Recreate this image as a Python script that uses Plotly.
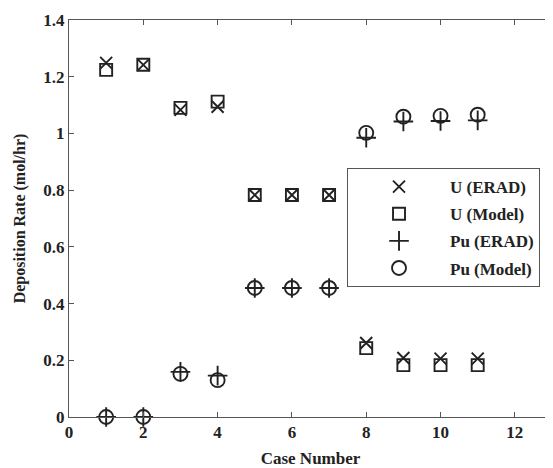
import plotly.graph_objects as go

cases = [1, 2, 3, 4, 5, 6, 7, 8, 9, 10, 11]
u_erad = [1.249, 1.242, 1.083, 1.094, 0.783, 0.783, 0.783, 0.261, 0.208, 0.206, 0.206]
u_model = [1.224, 1.242, 1.09, 1.112, 0.783, 0.783, 0.783, 0.243, 0.183, 0.183, 0.183]
pu_erad = [0.0, 0.0, 0.159, 0.146, 0.455, 0.455, 0.455, 0.985, 1.042, 1.044, 1.046]
pu_model = [0.0, 0.0, 0.152, 0.13, 0.455, 0.455, 0.455, 1.002, 1.059, 1.062, 1.066]
x_ticks = [0, 2, 4, 6, 8, 10, 12]
y_ticks = [0, 0.2, 0.4, 0.6, 0.8, 1.0, 1.2, 1.4]
y_tick_labels = ["0", "0.2", "0.4", "0.6", "0.8", "1", "1.2", "1.4"]

font_family = "Liberation Serif"
ink = "#222222"
frame = "#555555"

series = [
    ("U (ERAD)", u_erad, "x-thin-open", 12),
    ("U (Model)", u_model, "square-open", 12),
    ("Pu (ERAD)", pu_erad, "cross-thin-open", 14),
    ("Pu (Model)", pu_model, "circle-open", 14),
]

fig = go.Figure()
for i, (name, vals, sym, sz) in enumerate(series):
    fig.add_trace(go.Scatter(
        x=cases, y=vals, mode="markers", name="<b>%s</b>" % name,
        legendgroup=f"g{i}",
        marker=dict(symbol=sym, size=sz, color=ink, line=dict(color=ink, width=1.9)),
        cliponaxis=False,
    ))

axis_common = dict(
    showline=True, linecolor=frame, linewidth=1, mirror="ticks",
    ticks="inside", ticklen=5, tickcolor=frame, showgrid=False, zeroline=False,
    tickfont=dict(family=font_family, size=17, color=ink),
    automargin=False,
)

fig.update_layout(
    width=545, height=460,
    margin=dict(l=61, r=1, t=12, b=51),
    paper_bgcolor="white", plot_bgcolor="white",
    font=dict(family=font_family, color=ink),
    xaxis=dict(range=[0, 13], tickvals=x_ticks,
               ticktext=["<b>%d</b>" % t for t in x_ticks],
               title=dict(text="<b>Case Number</b>", font=dict(family=font_family, size=17, color=ink), standoff=12),
               **axis_common),
    yaxis=dict(range=[0, 1.4], tickvals=y_ticks,
               ticktext=["<b>%s</b>" % t for t in y_tick_labels],
               title=dict(text="<b>Deposition Rate (mol/hr)</b>", font=dict(family=font_family, size=16, color=ink), standoff=13),
               **axis_common),
    legend=dict(
        x=0.5756, y=0.627, xanchor="left", yanchor="top",
        bgcolor="white", bordercolor=frame, borderwidth=1,
        font=dict(family=font_family, size=17, color=ink),
        tracegroupgap=2, traceorder="grouped", itemwidth=92,
    ),
    showlegend=True,
)

fig.write_html("out.html")
